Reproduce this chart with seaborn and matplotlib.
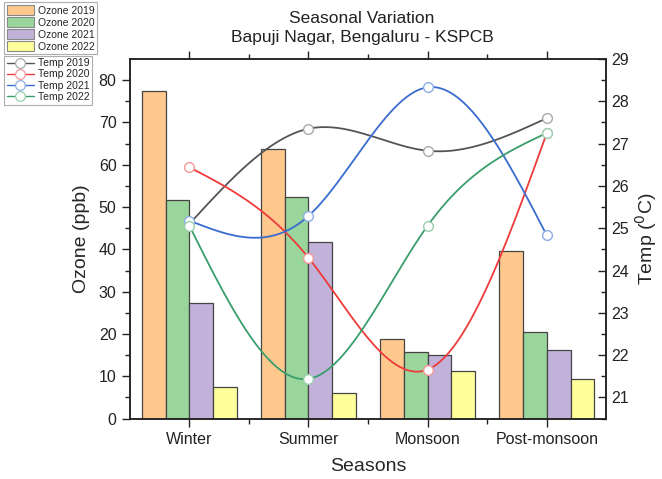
import numpy as np
import pandas as pd
import matplotlib
matplotlib.use("Agg")
import matplotlib.pyplot as plt
from matplotlib.patches import Patch
from matplotlib.lines import Line2D
import seaborn as sns

# ---- data ----
seasons = ["Winter", "Summer", "Monsoon", "Post-monsoon"]
ozone_years = ["Ozone 2019", "Ozone 2020", "Ozone 2021", "Ozone 2022"]
ozone_2019 = [77.5, 63.7, 18.8, 39.6]
ozone_2020 = [51.7, 52.3, 15.7, 20.5]
ozone_2021 = [27.3, 41.7, 15.1, 16.3]
ozone_2022 = [7.5, 6.1, 11.3, 9.4]

temp_years = ["Temp 2019", "Temp 2020", "Temp 2021", "Temp 2022"]
temp_2019 = [25.10, 27.35, 26.83, 27.60]
temp_2020 = [26.44, 24.30, 21.66, 27.25]
temp_2021 = [25.18, 25.29, 28.33, 24.83]
temp_2022 = [25.06, 21.44, 25.06, 27.25]

bar_colors = ["#FFC98E", "#9AD69C", "#C2B2DA", "#FFFF9C"]
line_colors = ["#555555", "#EE3A3A", "#3A6CD0", "#3A9E6C"]
marker_edges = ["#AAAAAA", "#F29A9A", "#8FAEE6", "#9CCFB0"]

ozone_df = pd.DataFrame({
    "Season": seasons * 4,
    "Series": np.repeat(ozone_years, 4),
    "Ozone": ozone_2019 + ozone_2020 + ozone_2021 + ozone_2022,
})
temps = [temp_2019, temp_2020, temp_2021, temp_2022]


def natural_spline(x, y, xs):
    """Natural cubic spline through (x, y), evaluated at xs."""
    x = np.asarray(x, float)
    y = np.asarray(y, float)
    n = len(x)
    h = np.diff(x)
    A = np.zeros((n, n))
    b = np.zeros(n)
    A[0, 0] = A[-1, -1] = 1.0
    for i in range(1, n - 1):
        A[i, i - 1] = h[i - 1]
        A[i, i] = 2 * (h[i - 1] + h[i])
        A[i, i + 1] = h[i]
        b[i] = 6 * ((y[i + 1] - y[i]) / h[i] - (y[i] - y[i - 1]) / h[i - 1])
    M = np.linalg.solve(A, b)
    out = np.empty_like(xs)
    for k, xv in enumerate(xs):
        i = min(max(np.searchsorted(x, xv) - 1, 0), n - 2)
        t1 = x[i + 1] - xv
        t0 = xv - x[i]
        out[k] = (M[i] * t1 ** 3 + M[i + 1] * t0 ** 3) / (6 * h[i]) \
            + (y[i] / h[i] - M[i] * h[i] / 6) * t1 \
            + (y[i + 1] / h[i] - M[i + 1] * h[i] / 6) * t0
    return out


sns.set_theme(style="ticks")
plt.rcParams["font.family"] = ["Liberation Sans", "DejaVu Sans"]

fig = plt.figure(figsize=(6.62, 4.79), dpi=100)
ax = fig.add_axes([0.196, 0.126, 0.720, 0.751])

sns.barplot(data=ozone_df, x="Season", y="Ozone", hue="Series",
            palette=bar_colors, order=seasons, hue_order=ozone_years,
            width=0.8, saturation=1, edgecolor="#444444", linewidth=0.9,
            legend=False, ax=ax, zorder=2)

ax.set_xlim(-0.5, 3.5)
ax.set_ylim(0, 85)
ax.set_yticks(np.arange(0, 81, 10))
ax.set_yticks(np.arange(5, 85, 10), minor=True)
ax.set_xticks(np.arange(0.5, 3.5, 1.0), minor=True)
ax.set_xlabel("Seasons", fontsize=14, labelpad=8)
ax.set_ylabel("Ozone (ppb)", fontsize=14, labelpad=6)
ax.tick_params(axis="both", which="major", labelsize=11.5, length=6,
               width=1.0, color="#222222", labelcolor="#222222", direction="out")
ax.tick_params(axis="both", which="minor", length=3.5, width=1.0,
               color="#222222", direction="out")
ax.tick_params(axis="x", which="both", top=True, direction="out")
for s in ax.spines.values():
    s.set_linewidth(1.1)
    s.set_color("#222222")

# temperature curves on the secondary axis
ax2 = ax.twinx()
xpos = np.arange(len(seasons))
xs = np.linspace(0, 3, 200)
for t, lc, me in zip(temps, line_colors, marker_edges):
    curve = pd.DataFrame({"x": xs, "temp": natural_spline(xpos, t, xs)})
    sns.lineplot(data=curve, x="x", y="temp", color=lc, linewidth=1.3,
                 ax=ax2, zorder=3)
for t, lc, me in zip(temps, line_colors, marker_edges):
    ax2.plot(xpos, t, linestyle="none", marker="o", markersize=7,
             markerfacecolor="white", markeredgecolor=me,
             markeredgewidth=1.0, zorder=4)

ax2.set_ylim(20.5, 29)
ax2.set_yticks(np.arange(21, 30, 1))
ax2.set_yticks(np.arange(20.5, 29.1, 0.5), minor=True)
ax2.set_ylabel(r"Temp ($^0$C)", fontsize=14, labelpad=3)
ax2.set_xlabel("")
ax2.tick_params(axis="y", which="major", labelsize=11.5, length=6,
                width=1.0, color="#222222", labelcolor="#222222", direction="in")
ax2.tick_params(axis="y", which="minor", length=3.5, width=1.0,
                color="#222222", direction="in")
for s in ax2.spines.values():
    s.set_linewidth(1.1)
    s.set_color("#222222")

fig.suptitle("Seasonal Variation\nBapuji Nagar, Bengaluru - KSPCB",
             x=0.547, y=0.978, fontsize=12.5, color="#222222",
             linespacing=1.4)

# legends in the upper-left corner of the figure
bar_handles = [Patch(facecolor=c, edgecolor="#888888", linewidth=0.8)
               for c in bar_colors]
leg1 = fig.legend(bar_handles, ozone_years, loc="upper left",
                  bbox_to_anchor=(0.006, 0.995), fontsize=7.5,
                  frameon=True, fancybox=False, edgecolor="#999999",
                  handlelength=2.6, handleheight=1.15, handletextpad=0.4,
                  borderpad=0.25, labelspacing=0.12, borderaxespad=0)
leg1.get_frame().set_linewidth(0.8)

line_handles = [Line2D([0], [0], color=lc, linewidth=1.0, marker="o",
                       markersize=7, markerfacecolor="white",
                       markeredgecolor=me, markeredgewidth=0.9)
                for lc, me in zip(line_colors, marker_edges)]
leg2 = fig.legend(line_handles, temp_years, loc="upper left",
                  bbox_to_anchor=(0.006, 0.884), fontsize=7.5,
                  frameon=True, fancybox=False, edgecolor="#999999",
                  handlelength=2.6, handletextpad=0.4,
                  borderpad=0.25, labelspacing=0.12, borderaxespad=0)
leg2.get_frame().set_linewidth(0.8)

fig.savefig("out.png", dpi=100)
